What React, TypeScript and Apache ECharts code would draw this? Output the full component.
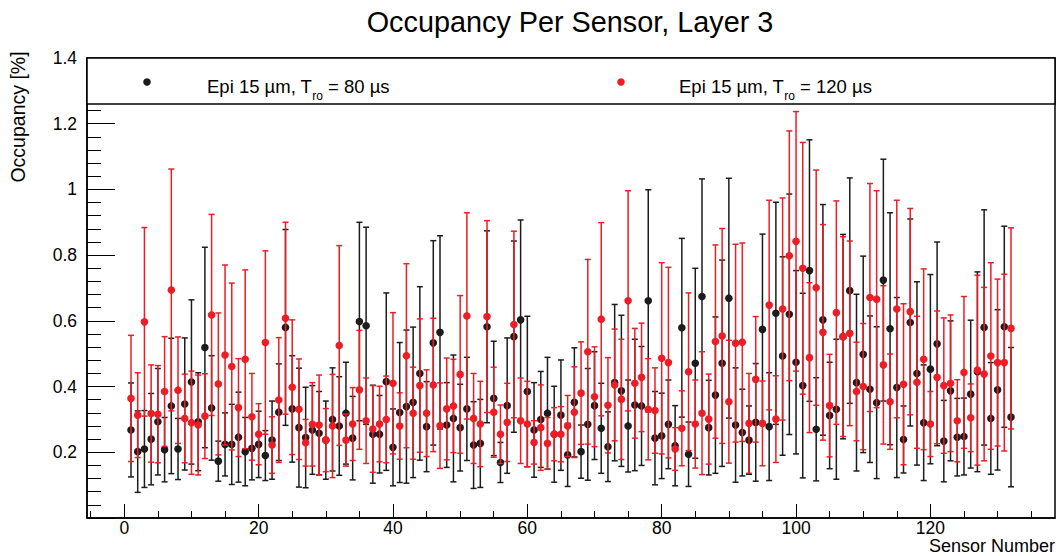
import React, { useEffect, useRef } from "react";
import * as echarts from "echarts";

const FONT = "'Liberation Sans', Arial, Helvetica, sans-serif";

const sensorNumbers: number[] = Array.from({ length: 132 }, (_, k) => k + 1);

const occ80 = [0.268,0.202,0.210,0.240,0.293,0.208,0.341,0.210,0.347,0.414,
0.293,0.519,0.335,0.173,0.224,0.224,0.246,0.202,0.212,0.224,
0.190,0.237,0.322,0.580,0.332,0.275,0.245,0.268,0.258,0.237,
0.300,0.280,0.319,0.243,0.598,0.585,0.255,0.255,0.415,0.215,
0.321,0.339,0.352,0.440,0.278,0.533,0.565,0.283,0.303,0.275,
0.332,0.222,0.227,0.582,0.364,0.169,0.342,0.552,0.603,0.385,
0.268,0.300,0.319,0.255,0.313,0.192,0.352,0.202,0.285,0.342,
0.273,0.217,0.412,0.387,0.280,0.344,0.341,0.661,0.243,0.250,
0.285,0.220,0.579,0.194,0.471,0.674,0.275,0.374,0.471,0.669,
0.283,0.260,0.237,0.291,0.574,0.278,0.623,0.493,0.620,0.474,
0.403,0.753,0.270,0.603,0.312,0.331,0.552,0.692,0.412,0.498,
0.392,0.351,0.724,0.576,0.397,0.239,0.595,0.440,0.290,0.453,
0.530,0.234,0.387,0.246,0.248,0.377,0.445,0.580,0.303,0.390,
0.582,0.307];

const err80 = [0.143,0.124,0.117,0.139,0.162,0.098,0.206,0.093,0.201,0.250,
0.149,0.305,0.159,0.061,0.096,0.122,0.137,0.104,0.096,0.101,
0.076,0.119,0.147,0.298,0.162,0.181,0.153,0.135,0.127,0.119,
0.157,0.150,0.155,0.127,0.302,0.300,0.149,0.118,0.270,0.117,
0.213,0.233,0.229,0.264,0.137,0.311,0.294,0.129,0.193,0.132,
0.157,0.132,0.134,0.292,0.174,0.061,0.206,0.291,0.304,0.229,
0.144,0.146,0.170,0.146,0.168,0.096,0.166,0.081,0.170,0.164,
0.137,0.106,0.238,0.230,0.140,0.200,0.181,0.338,0.142,0.130,
0.135,0.122,0.272,0.098,0.289,0.358,0.144,0.238,0.314,0.365,
0.174,0.132,0.104,0.179,0.290,0.164,0.338,0.302,0.366,0.279,
0.281,0.398,0.157,0.351,0.162,0.213,0.311,0.343,0.269,0.299,
0.223,0.231,0.368,0.353,0.274,0.102,0.315,0.279,0.176,0.288,
0.310,0.124,0.213,0.118,0.117,0.225,0.304,0.358,0.170,0.244,
0.306,0.212];

const occ120 = [0.364,0.313,0.597,0.318,0.316,0.385,0.694,0.389,0.303,0.290,
0.283,0.310,0.618,0.408,0.496,0.461,0.336,0.483,0.308,0.255,
0.534,0.222,0.359,0.608,0.398,0.331,0.229,0.285,0.283,0.237,
0.280,0.525,0.237,0.286,0.390,0.296,0.271,0.286,0.300,0.410,
0.280,0.494,0.319,0.403,0.319,0.405,0.281,0.332,0.341,0.437,
0.615,0.303,0.286,0.613,0.322,0.255,0.291,0.589,0.296,0.286,
0.230,0.275,0.227,0.255,0.255,0.280,0.322,0.380,0.506,0.369,
0.605,0.343,0.405,0.361,0.661,0.410,0.428,0.331,0.327,0.486,
0.473,0.210,0.273,0.445,0.286,0.319,0.301,0.537,0.554,0.354,
0.532,0.535,0.288,0.422,0.288,0.648,0.301,0.636,0.798,0.842,
0.760,0.488,0.701,0.565,0.342,0.625,0.552,0.562,0.385,0.400,
0.671,0.666,0.466,0.354,0.636,0.407,0.628,0.413,0.483,0.286,
0.428,0.403,0.410,0.296,0.443,0.305,0.450,0.438,0.493,0.473,
0.473,0.577];

const err120 = [0.192,0.129,0.287,0.148,0.148,0.167,0.368,0.162,0.135,0.157,
0.152,0.129,0.306,0.216,0.274,0.254,0.149,0.272,0.132,0.093,
0.279,0.086,0.190,0.292,0.205,0.153,0.071,0.127,0.152,0.096,
0.157,0.304,0.079,0.111,0.181,0.130,0.132,0.115,0.132,0.215,
0.101,0.280,0.140,0.203,0.132,0.203,0.130,0.155,0.142,0.240,
0.314,0.137,0.130,0.292,0.137,0.089,0.119,0.284,0.130,0.130,
0.066,0.130,0.079,0.081,0.084,0.093,0.138,0.156,0.281,0.152,
0.294,0.145,0.170,0.183,0.335,0.167,0.165,0.154,0.130,0.291,
0.290,0.065,0.114,0.240,0.134,0.187,0.137,0.294,0.327,0.187,
0.301,0.302,0.152,0.191,0.129,0.319,0.132,0.338,0.380,0.395,
0.383,0.228,0.358,0.328,0.156,0.340,0.304,0.281,0.150,0.192,
0.347,0.330,0.241,0.145,0.331,0.245,0.314,0.201,0.275,0.099,
0.202,0.206,0.208,0.125,0.231,0.103,0.289,0.264,0.284,0.254,
0.269,0.306];

const xMajorTicks = [0, 20, 40, 60, 80, 100, 120];
const xMinorTicks = [-5, 5, 10, 15, 25, 30, 35, 45, 50, 55, 65, 70, 75, 85, 90, 95, 105, 110, 115, 125, 130, 135];
const yTickLabels = ["0.2", "0.4", "0.6", "0.8", "1", "1.2", "1.4"];

const X_MIN = -5.55;
const X_MAX = 138.55;
const Y_MIN = 0;
const Y_MAX = 1.4;

const BLACK = "#1c1c1c";
const RED = "#ee1c24";

const TITLE = "Occupancy Per Sensor, Layer 3";
const X_NAME = "Sensor Number";
const Y_NAME = "Occupancy [%]";

function makeErrorSeries(name: string, vals: number[], errs: number[], color: string) {
  const data = sensorNumbers.map((s, k) => [s, vals[k], errs[k]]);
  return {
    type: "custom",
    name,
    xAxisIndex: 0,
    yAxisIndex: 0,
    dimensions: ["x", "y", "err"],
    encode: { x: 0, y: 1 },
    data,
    clip: false,
    renderItem: (params: any, api: any) => {
      const x = api.value(0);
      const y = api.value(1);
      const e = api.value(2);
      const p = api.coord([x, y]);
      const hi = api.coord([x, y + e]);
      const lo = api.coord([x, y - e]);
      const cap = 3;
      const ls = { stroke: color, lineWidth: 1.5 };
      return {
        type: "group",
        children: [
          { type: "line", shape: { x1: p[0], y1: hi[1], x2: p[0], y2: lo[1] }, style: ls },
          { type: "line", shape: { x1: p[0] - cap, y1: hi[1], x2: p[0] + cap, y2: hi[1] }, style: ls },
          { type: "line", shape: { x1: p[0] - cap, y1: lo[1], x2: p[0] + cap, y2: lo[1] }, style: ls },
          { type: "circle", shape: { cx: p[0], cy: p[1], r: 3.8 }, style: { fill: color } },
        ],
      };
    },
  };
}

function legendText(x: number, y: number, main: string, tail: string) {
  return {
    type: "text",
    x,
    y,
    z: 110,
    style: {
      text: `{a|${main}}{s|ro}{a|${tail}}`,
      verticalAlign: "middle",
      align: "left",
      rich: {
        a: { fontSize: 18.5, fontFamily: FONT, fill: "#000", lineHeight: 32, verticalAlign: "middle" },
        s: { fontSize: 12, fontFamily: FONT, fill: "#000", lineHeight: 13, verticalAlign: "bottom" },
      },
    },
  };
}

export default function App() {
  const ref = useRef<HTMLDivElement>(null);
  useEffect(() => {
    if (!ref.current) return;
    const chart = echarts.init(ref.current, null, { renderer: "svg" });
    const option: any = {
      animation: false,
      backgroundColor: "#ffffff",
      textStyle: { fontFamily: FONT },
      grid: {
        left: 87,
        right: 5,
        top: 58,
        bottom: 38,
        show: true,
        borderColor: "#000",
        borderWidth: 1.5,
        backgroundColor: "transparent",
      },
      xAxis: [
        {
          type: "value",
          min: X_MIN,
          max: X_MAX,
          position: "bottom",
          splitLine: { show: false },
          axisLine: { show: true, onZero: false, lineStyle: { color: "#000", width: 1.5 } },
          axisTick: { show: true, inside: true, length: 14, customValues: xMajorTicks, lineStyle: { color: "#000", width: 1 } },
          axisLabel: {
            show: true,
            customValues: xMajorTicks,
            color: "#000",
            fontSize: 17.5,
            lineHeight: 16,
            fontFamily: FONT,
            margin: 2,
            formatter: (v: number) => String(v),
          },
        },
        {
          type: "value",
          min: X_MIN,
          max: X_MAX,
          position: "bottom",
          splitLine: { show: false },
          axisLine: { show: false, onZero: false },
          axisTick: { show: true, inside: true, length: 7, customValues: xMinorTicks, lineStyle: { color: "#000", width: 1 } },
          axisLabel: { show: false },
        },
      ],
      yAxis: {
        type: "value",
        min: Y_MIN,
        max: Y_MAX,
        interval: 0.2,
        splitLine: { show: false },
        axisLine: { show: true, onZero: false, lineStyle: { color: "#000", width: 1.5 } },
        axisTick: { show: true, inside: true, length: 28, lineStyle: { color: "#000", width: 1 } },
        minorTick: { show: true, splitNumber: 5, length: 14, lineStyle: { color: "#000", width: 1 } },
        minorSplitLine: { show: false },
        axisLabel: {
          color: "#000",
          fontSize: 17.5,
          fontFamily: FONT,
          margin: 10,
          formatter: (v: number) => {
            const idx = Math.round(v / 0.2) - 1;
            return idx >= 0 && idx < yTickLabels.length ? yTickLabels[idx] : "";
          },
        },
      },
      graphic: [
        {
          type: "text",
          x: 570,
          y: 22,
          style: { text: TITLE, fontSize: 28.8, fontFamily: FONT, fill: "#000", align: "center", verticalAlign: "middle" },
        },
        {
          type: "text",
          x: 1055,
          y: 546,
          style: { text: X_NAME, fontSize: 18, lineHeight: 16, fontFamily: FONT, fill: "#000", align: "right", verticalAlign: "middle" },
        },
        {
          type: "text",
          x: 18,
          y: 117,
          rotation: Math.PI / 2,
          style: { text: Y_NAME, fontSize: 19.5, fontFamily: FONT, fill: "#000", align: "center", verticalAlign: "middle" },
        },
        {
          type: "rect",
          z: 100,
          shape: { x: 87, y: 58, width: 968, height: 46 },
          style: { fill: "#fff", stroke: "#000", lineWidth: 1.5 },
        },
        { type: "circle", z: 110, shape: { cx: 147, cy: 82, r: 3.8 }, style: { fill: BLACK } },
        { type: "circle", z: 110, shape: { cx: 621, cy: 82, r: 3.8 }, style: { fill: RED } },
        legendText(207, 86, "Epi 15 µm, T", " = 80 µs"),
        legendText(679, 86, "Epi 15 µm, T", " = 120 µs"),
      ],
      series: [
        makeErrorSeries("Epi 15 µm, Tro = 80 µs", occ80, err80, BLACK),
        makeErrorSeries("Epi 15 µm, Tro = 120 µs", occ120, err120, RED),
      ],
    };
    chart.setOption(option);
    return () => chart.dispose();
  }, []);
  return (
    <div
      ref={ref}
      style={{ position: "fixed", left: 0, top: 0, width: 1060, height: 556, background: "#fff" }}
    />
  );
}
